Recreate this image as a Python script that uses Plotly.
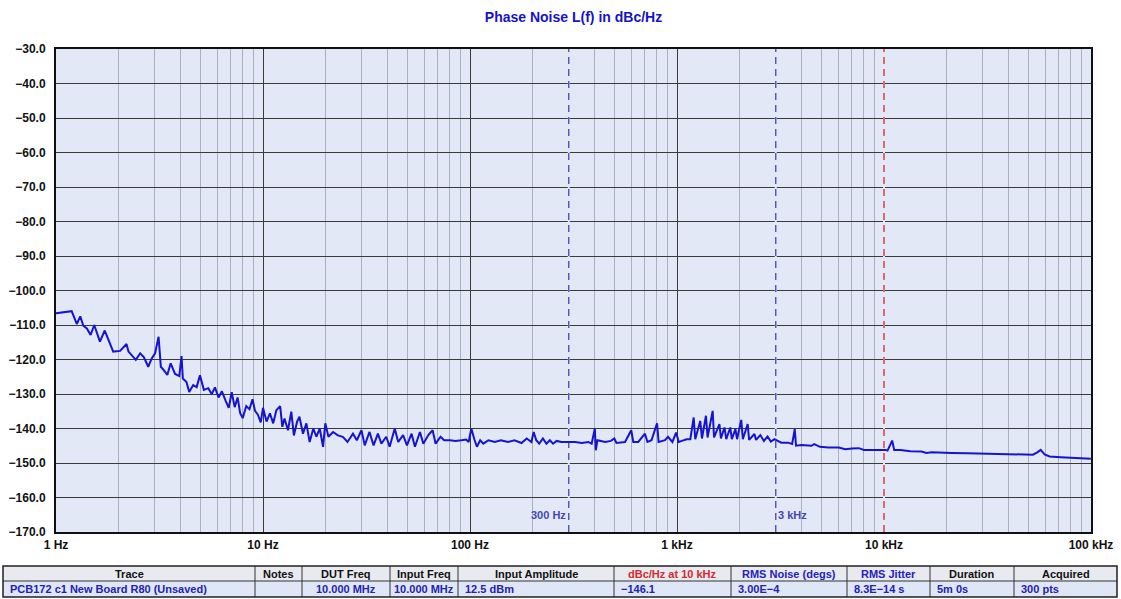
import math
import plotly.graph_objects as go

# ---------------- data ----------------
freq_hz = [
    1.00, 1.10, 1.19, 1.26, 1.31, 1.355, 1.41, 1.47, 1.53, 1.63, 1.72, 1.89, 2.04, 2.19, 2.24,
    2.43, 2.55, 2.66, 2.79, 2.90, 3.01, 3.13, 3.21, 3.36, 3.45, 3.58, 3.76, 3.94, 4.04, 4.10,
    4.27, 4.40, 4.60, 4.78, 4.96, 5.18, 5.44, 5.65, 5.86, 6.10, 6.33, 6.60, 6.83, 7.06, 7.30,
    7.54, 7.75, 7.98, 8.30, 8.60, 8.90, 9.15, 9.45, 9.75, 10.0,
    10.4, 10.8, 11.2, 11.6, 12.1, 12.4, 12.7, 13.2, 13.7, 14.1, 14.6, 15.0, 15.6, 16.2, 16.8,
    17.5, 18.1, 18.8, 19.5, 20.0, 20.7, 21.8, 23.0, 24.3, 25.6, 27.2, 28.4, 29.9, 31.0, 32.7,
    34.2, 35.9, 37.3, 39.4, 40.9, 43.3, 45.0, 47.5, 49.6, 52.2, 54.2, 57.3, 59.5, 62.9, 66.0,
    68.2, 72.1, 75.0, 80.1, 84.9, 91.0, 95.8, 98.5, 101.5,
    105, 108, 112, 116, 122.7, 131.8, 141, 152.6, 164, 177.4, 188, 198, 203, 209, 216,
    225, 234, 243, 252, 262, 277, 299.5, 322, 347, 373, 387, 401, 405, 413, 450,
    479, 498, 510, 561, 601, 615, 650, 700, 720, 753, 801, 815, 875, 905, 950, 990, 1009,
    1020, 1055, 1114, 1160, 1204, 1225, 1295, 1320, 1380, 1405, 1487, 1510, 1603, 1630, 1695,
    1730, 1808, 1840, 1915, 1950, 2043, 2080, 2195, 2230, 2366, 2410, 2526, 2630, 2738, 2840,
    2957, 3189, 3438, 3600, 3705, 3760, 3994, 4460, 4600, 4900, 5400, 6046, 6500, 7000, 7560,
    8000, 8750, 9400, 10170,
    10400, 10950, 11200, 12000, 13400, 15200, 16000, 17000, 18900, 21200, 25400, 29400, 34100,
    41200, 47800, 52400, 55000, 57100, 59700, 63100, 71400, 79500, 88900, 99800,
]
phase_noise_dbc = [
    -106.6, -106.3, -106.0, -109.7, -107.5, -110.2, -111.0, -112.9, -110.0, -114.8, -111.6, -117.7, -117.5, -115.5, -117.7,
    -120.1, -118.2, -119.4, -122.1, -119.7, -118.2, -113.4, -122.1, -123.5, -124.5, -121.1, -124.2, -124.8, -119.0, -125.5,
    -126.5, -129.4, -127.4, -128.0, -124.6, -128.8, -128.3, -130.0, -128.1, -131.0, -129.2, -132.0, -134.0, -129.5, -133.8,
    -131.0, -135.5, -137.0, -133.5, -134.4, -131.5, -134.9, -136.0, -138.2, -134.0,
    -138.0, -135.6, -138.5, -134.7, -133.5, -139.5, -137.1, -140.5, -135.1, -142.0, -138.1, -136.6, -141.5, -138.5, -143.9,
    -140.0, -142.4, -140.0, -145.3, -138.5, -142.4, -141.0, -142.0, -142.4, -143.9, -141.5, -143.4, -140.5, -144.9, -141.0,
    -144.9, -141.5, -144.4, -142.4, -145.3, -140.0, -143.9, -141.9, -144.9, -141.5, -145.3, -141.0, -144.4, -141.9, -140.5,
    -144.4, -142.4, -143.4, -143.4, -143.6, -143.4, -143.2, -143.9, -140.0,
    -143.2, -145.3, -143.4, -144.4, -143.4, -143.9, -143.4, -143.9, -143.4, -144.2, -142.9, -143.9, -141.0, -143.4, -144.4,
    -142.9, -144.4, -143.4, -144.4, -143.6, -143.9, -143.9, -143.9, -144.2, -143.9, -144.4, -140.0, -146.3, -143.4, -143.9,
    -143.6, -142.9, -144.2, -143.9, -140.5, -143.9, -143.9, -141.5, -143.9, -143.4, -138.5, -143.9, -143.4, -142.4, -143.9, -141.2, -143.4,
    -143.9, -143.6, -143.1, -143.1, -136.8, -143.1, -137.8, -142.9, -136.3, -142.6, -134.9, -142.6, -138.7, -142.9, -139.7,
    -143.1, -139.7, -143.1, -140.2, -143.1, -137.5, -143.1, -138.7, -143.3, -141.6, -143.3, -141.9, -143.6, -142.3, -143.8,
    -143.1, -144.1, -144.1, -144.5, -140.2, -145.0, -144.8, -145.0, -144.5, -145.3, -145.5, -145.5, -146.0, -145.8, -145.7,
    -146.2, -146.3, -146.2, -146.2,
    -146.4, -143.5, -146.2, -146.2, -146.6, -146.7, -147.1, -146.9, -146.9, -147.1, -147.2, -147.3, -147.3,
    -147.5, -147.6, -147.6, -146.9, -146.2, -147.5, -148.1, -148.3, -148.5, -148.6, -148.8,
]

x_tick_vals = [1, 10, 100, 1000, 10000, 100000]
x_tick_text = ["1 Hz", "10 Hz", "100 Hz", "1 kHz", "10 kHz", "100 kHz"]

marker_freqs = [300, 3000, 10000]
marker_labels = ["300 Hz", "3 kHz", ""]
marker_colors = ["#4646b4", "#4646b4", "#d42a2a"]

table_headers = ["Trace", "Notes", "DUT Freq", "Input Freq", "Input Amplitude",
                 "dBc/Hz at 10 kHz", "RMS Noise (degs)", "RMS Jitter", "Duration", "Acquired"]
table_row = ["PCB172 c1 New Board R80 (Unsaved)", "", "10.000 MHz", "10.000 MHz", "12.5 dBm",
             "\u2212146.1", "3.00E\u22124", "8.3E\u221214 s", "5m 0s", "300 pts"]
header_colors = ["#111111", "#111111", "#111111", "#111111", "#111111",
                 "#d42a2a", "#2222c0", "#2222c0", "#111111", "#111111"]
col_edges_px = [3, 255, 302, 390, 458, 614, 731, 847, 930, 1014, 1117]
cell_align = ["left", "left", "center", "center", "left", "left", "left", "left", "left", "left"]

# ---------------- figure ----------------
W, H = 1121, 599
PL, PR, PT, PB = 56, 1091, 49, 532
TBL_TOP, TBL_MID, TBL_BOT = 566, 581, 597

def px(xp):
    return xp / W

def py(yp):
    return 1 - yp / H

fig = go.Figure()

fig.add_trace(go.Scatter(
    x=freq_hz, y=phase_noise_dbc, mode="lines",
    line=dict(color="#1414d2", width=2),
    hoverinfo="x+y", showlegend=False,
))

minor_vals = []
for dec in [1, 10, 100, 1000, 10000]:
    for m in range(2, 10):
        minor_vals.append(dec * m)

FONT = "Liberation Sans, Arial, sans-serif"

fig.update_layout(
    width=W, height=H,
    margin=dict(l=0, r=0, t=0, b=0, autoexpand=False),
    paper_bgcolor="white",
    plot_bgcolor="#e2e8f5",
    title=dict(
        text="<b>Phase Noise L(f) in dBc/Hz</b>",
        x=(PL + PR) / 2 / W, xref="paper", xanchor="center",
        y=1 - 17 / H, yref="container", yanchor="middle", automargin=False,
        font=dict(family=FONT, size=14, color="#1414c8"),
    ),
    xaxis=dict(
        type="log", domain=[px(PL), px(PR)], automargin=False,
        range=[0, 5],
        tickmode="array", tickvals=x_tick_vals, ticktext=[f"<b>{t}</b>" for t in x_tick_text],
        showgrid=True, gridcolor="#3a3a3a", gridwidth=1,
        minor=dict(tickmode="array", tickvals=minor_vals, showgrid=True,
                   gridcolor="#a9b1c3", gridwidth=1, ticks=""),
        showline=True, linecolor="#111111", linewidth=2, mirror=True,
        ticks="", ticklabelstandoff=1,
        tickfont=dict(family=FONT, size=12, color="#111111"),
        zeroline=False,
    ),
    yaxis=dict(
        domain=[py(PB), py(PT)], automargin=False,
        range=[-170, -30], dtick=10, tick0=-170,
        tickformat=".1f",
        showgrid=True, gridcolor="#3a3a3a", gridwidth=1,
        showline=True, linecolor="#111111", linewidth=2, mirror=True,
        ticks="", ticklabelstandoff=6,
        tickfont=dict(family=FONT, size=12, color="#111111"),
        zeroline=False,
        tickprefix="<b>", ticksuffix="</b>",
    ),
)

# marker lines (cover grid, then dashed)
for f, lab, col in zip(marker_freqs, marker_labels, marker_colors):
    fig.add_shape(type="line", xref="x", yref="y", x0=f, x1=f, y0=-170, y1=-30,
                  line=dict(color="#e2e8f5", width=2), layer="between")
    fig.add_shape(type="line", xref="x", yref="y", x0=f, x1=f, y0=-170, y1=-30,
                  line=dict(color=col, width=1.3, dash="7px,5px"), layer="between")
    if lab:
        right_side = f >= 1000
        fig.add_annotation(
            x=math.log10(f), y=-165, xref="x", yref="y", text=f"<b>{lab}</b>", showarrow=False,
            xanchor="left" if right_side else "right", xshift=0 if right_side else -1,
            font=dict(family=FONT, size=11, color=col),
        )

# ---------------- table (drawn with shapes / annotations) ----------------
x0t, x1t = col_edges_px[0], col_edges_px[-1]
fig.add_shape(type="rect", xref="paper", yref="paper",
              x0=px(x0t), x1=px(x1t), y0=py(TBL_MID), y1=py(TBL_TOP),
              fillcolor="#e8eaf0", line=dict(width=0), layer="below")
fig.add_shape(type="rect", xref="paper", yref="paper",
              x0=px(x0t), x1=px(x1t), y0=py(TBL_BOT), y1=py(TBL_MID),
              fillcolor="#dfe6f6", line=dict(width=0), layer="below")
fig.add_shape(type="line", xref="paper", yref="paper",
              x0=px(x0t), x1=px(x1t), y0=py(TBL_MID), y1=py(TBL_MID),
              line=dict(color="#333333", width=1))
for e in col_edges_px[1:-1]:
    fig.add_shape(type="line", xref="paper", yref="paper",
                  x0=px(e), x1=px(e), y0=py(TBL_BOT), y1=py(TBL_TOP),
                  line=dict(color="#333333", width=1))
fig.add_shape(type="rect", xref="paper", yref="paper",
              x0=px(x0t), x1=px(x1t), y0=py(TBL_BOT), y1=py(TBL_TOP),
              line=dict(color="#222222", width=1.5))

for i, (hdr, val, hcol, al) in enumerate(zip(table_headers, table_row, header_colors, cell_align)):
    cl, cr = col_edges_px[i], col_edges_px[i + 1]
    fig.add_annotation(
        x=px((cl + cr) / 2), y=py((TBL_TOP + TBL_MID) / 2), xref="paper", yref="paper",
        text=f"<b>{hdr}</b>", showarrow=False, xanchor="center", yanchor="middle",
        font=dict(family=FONT, size=11, color=hcol),
    )
    if val:
        if al == "center":
            xa, xanc = (cl + cr) / 2, "center"
        else:
            xa, xanc = cl + 5, "left"
        fig.add_annotation(
            x=px(xa), y=py((TBL_MID + TBL_BOT) / 2), xref="paper", yref="paper",
            text=f"<b>{val}</b>", showarrow=False, xanchor=xanc, yanchor="middle",
            font=dict(family=FONT, size=11, color="#2222b4"),
        )

fig.write_html("out.html", config={"displayModeBar": False},
               post_script="document.body.style.margin='0';")
